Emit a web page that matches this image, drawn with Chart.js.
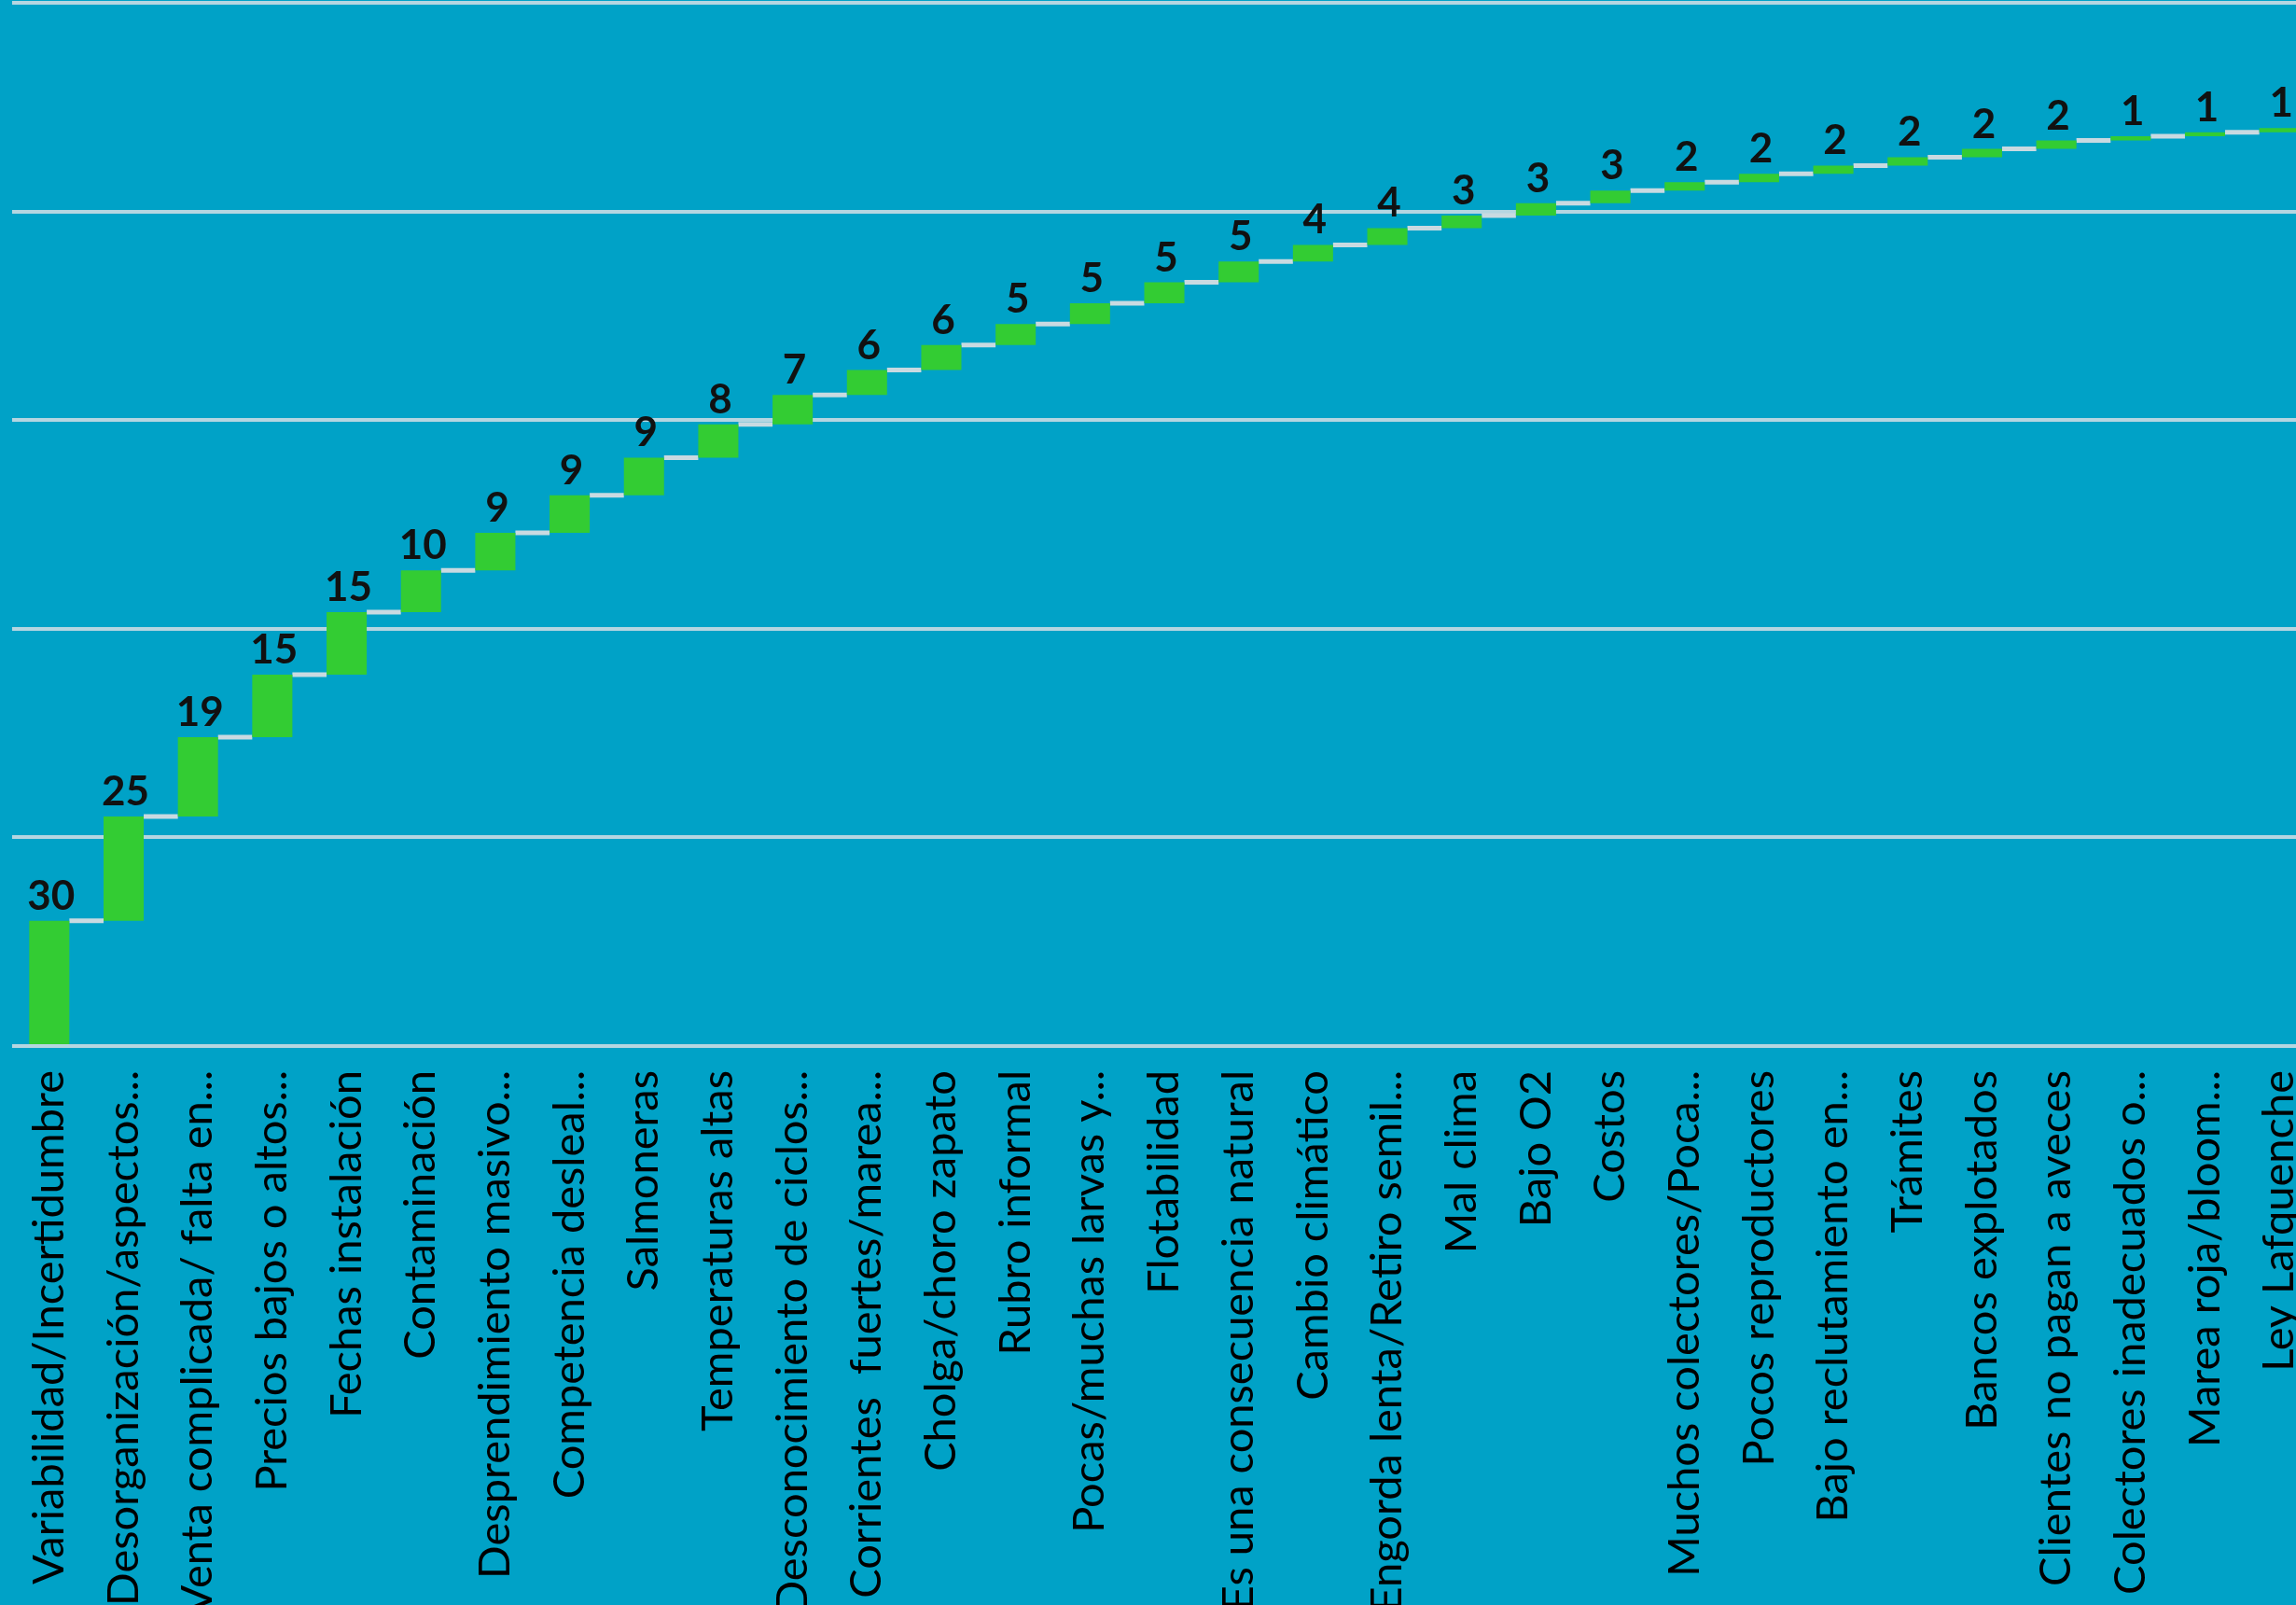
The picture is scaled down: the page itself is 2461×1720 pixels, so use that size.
<!DOCTYPE html>
<html>
<head>
<meta charset="utf-8">
<script src="https://cdn.jsdelivr.net/npm/chart.js@4.4.1/dist/chart.umd.min.js"></script>
<style>
  html, body { margin: 0; padding: 0; background: #00A2C7; overflow: hidden; }
  #wrap { width: 2483px; height: 1720px; }
</style>
</head>
<body>
<div id="wrap"><canvas id="chart" width="2483" height="1720"></canvas></div>
<script>
let labels = ["Variabilidad/Incertidumbre", "Desorganización/aspectos...", "Venta complicada/ falta en...",
    "Precios bajos o altos...", "Fechas instalación", "Contaminación", "Desprendimiento masivo...",
    "Competencia desleal...", "Salmoneras", "Temperaturas altas", "Desconocimiento de ciclos...",
    "Corrientes  fuertes/marea...", "Cholga/choro zapato", "Rubro informal", "Pocas/muchas larvas y...",
    "Flotabilidad", "Es una consecuencia natural", "Cambio climático", "Engorda lenta/Retiro semil...",
    "Mal clima", "Bajo O2", "Costos", "Muchos colectores/Poca...", "Pocos reproductores",
    "Bajo reclutamiento en...", "Trámites", "Bancos explotados", "Clientes no pagan a aveces",
    "Colectores inadecuados o...", "Marea roja/bloom...", "Ley Lafquenche"];
let values = [30, 25, 19, 15, 15, 10, 9, 9, 9, 8, 7, 6, 6, 5, 5, 5, 5, 4, 4, 3, 3, 3, 2, 2, 2, 2, 2, 2, 1, 1, 1];
let yMax = 250;
let yStep = 50;

// waterfall: every bar floats from the running total before it to the one after it
let totals = [];
let running = 0;
let floating = values.map(v => {
    let r = [running, running + v];
    running += v;
    totals.push(running);
    return r;
});

let connectors = {
    id: 'connectors',
    beforeDatasetsDraw(chart) {
        let ctx = chart.ctx;
        let bars = chart.getDatasetMeta(0).data;
        let y = chart.scales.y;
        ctx.save();
        ctx.strokeStyle = "#C9DAE1";
        ctx.lineWidth = 5;
        for (let i = 0; i < bars.length - 1; i++) {
            let py = y.getPixelForValue(totals[i]);
            ctx.beginPath();
            ctx.moveTo(bars[i].x + bars[i].width / 2, py);
            ctx.lineTo(bars[i + 1].x - bars[i + 1].width / 2, py);
            ctx.stroke();
        }
        ctx.restore();
    }
};

let valueLabels = {
    id: 'valueLabels',
    afterDatasetsDraw(chart) {
        let ctx = chart.ctx;
        let bars = chart.getDatasetMeta(0).data;
        let y = chart.scales.y;
        ctx.save();
        ctx.fillStyle = "#111";
        ctx.font = "bold 44px Lato";
        ctx.textAlign = "center";
        ctx.textBaseline = "alphabetic";
        bars.forEach((b, i) => {
            ctx.fillText(values[i], b.x + 2, y.getPixelForValue(totals[i]) - 12);
        });
        ctx.restore();
    }
};

let chart = new Chart(document.getElementById("chart").getContext("2d"), {
    type: 'bar',
    data: {
        labels: labels,
        datasets: [{
            data: floating,
            backgroundColor: "#33CC33",
            borderWidth: 0,
            barPercentage: 0.54,
            categoryPercentage: 1
        }]
    },
    options: {
        responsive: false,
        animation: false,
        layout: { padding: { left: 13, top: 3, right: 0, bottom: 0 } },
        plugins: {
            legend: { display: false },
            tooltip: { enabled: false }
        },
        scales: {
            x: {
                grid: { display: false },
                border: { display: false },
                ticks: {
                    autoSkip: false,
                    minRotation: 90,
                    maxRotation: 90,
                    padding: 18,
                    color: "#000",
                    font: { family: "Lato", size: 47 }
                },
                afterFit: s => {
                    s.height = 599;
                    s.paddingLeft = 0;
                    s.paddingRight = 0;
                }
            },
            y: {
                min: 0,
                max: yMax,
                ticks: { display: false, stepSize: yStep },
                border: { display: false },
                grid: { color: "#B5D6E1", lineWidth: 4, drawTicks: false },
                afterFit: s => { s.width = 0; }
            }
        }
    },
    plugins: [connectors, valueLabels]
});
</script>
</body>
</html>
